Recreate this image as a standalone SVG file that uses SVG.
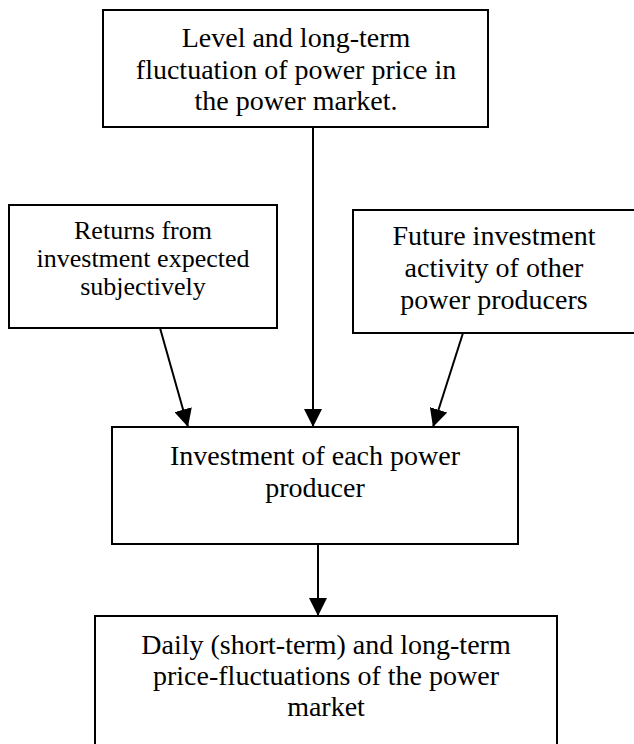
<svg xmlns="http://www.w3.org/2000/svg" width="634" height="744" viewBox="0 0 634 744">
  <defs>
    <marker id="arrow" markerWidth="18" markerHeight="18" refX="18" refY="9" orient="auto" markerUnits="userSpaceOnUse">
      <path d="M0,0 L18,9 L0,18 Z" fill="#000"/>
    </marker>
  </defs>
  <style>
    .box { fill: #fff; stroke: #000; stroke-width: 2; }
    .lbl { font-family: "Liberation Serif", "Times New Roman", serif; fill: #000; text-anchor: middle; }
    .big { font-size: 28px; }
    .small { font-size: 26px; }
    .edge { stroke: #000; stroke-width: 2; fill: none; marker-end: url(#arrow); }
  </style>
  <rect width="634" height="744" fill="#fff"/>

  <g id="connectors">
    <line class="edge" x1="313" y1="128" x2="313" y2="427"/>
    <line class="edge" x1="160" y1="328" x2="188" y2="427"/>
    <line class="edge" x1="463" y1="333" x2="433" y2="427"/>
    <line class="edge" x1="318" y1="544" x2="318" y2="616"/>
  </g>

  <g id="price-level">
    <rect class="box" x="103" y="10" width="385" height="117"/>
    <text class="lbl big" x="296" y="47">Level and long-term</text>
    <text class="lbl big" x="296" y="79">fluctuation of power price in</text>
    <text class="lbl big" x="296" y="110">the power market.</text>
  </g>

  <g id="expected-returns">
    <rect class="box" x="9" y="205" width="268" height="123"/>
    <text class="lbl small" x="143" y="239">Returns from</text>
    <text class="lbl small" x="143" y="267">investment expected</text>
    <text class="lbl small" x="143" y="295">subjectively</text>
  </g>

  <g id="other-producers">
    <rect class="box" x="353" y="210" width="283" height="123"/>
    <text class="lbl big" x="494" y="245">Future investment</text>
    <text class="lbl big" x="494" y="277">activity of other</text>
    <text class="lbl big" x="494" y="309">power producers</text>
  </g>

  <g id="investment">
    <rect class="box" x="112" y="427" width="406" height="117"/>
    <text class="lbl big" x="315" y="465">Investment of each power</text>
    <text class="lbl big" x="315" y="497">producer</text>
  </g>

  <g id="price-fluctuations">
    <rect class="box" x="95" y="616" width="462" height="140"/>
    <text class="lbl big" x="326" y="654">Daily (short-term) and long-term</text>
    <text class="lbl big" x="326" y="685">price-fluctuations of the power</text>
    <text class="lbl big" x="326" y="716">market</text>
  </g>
</svg>
